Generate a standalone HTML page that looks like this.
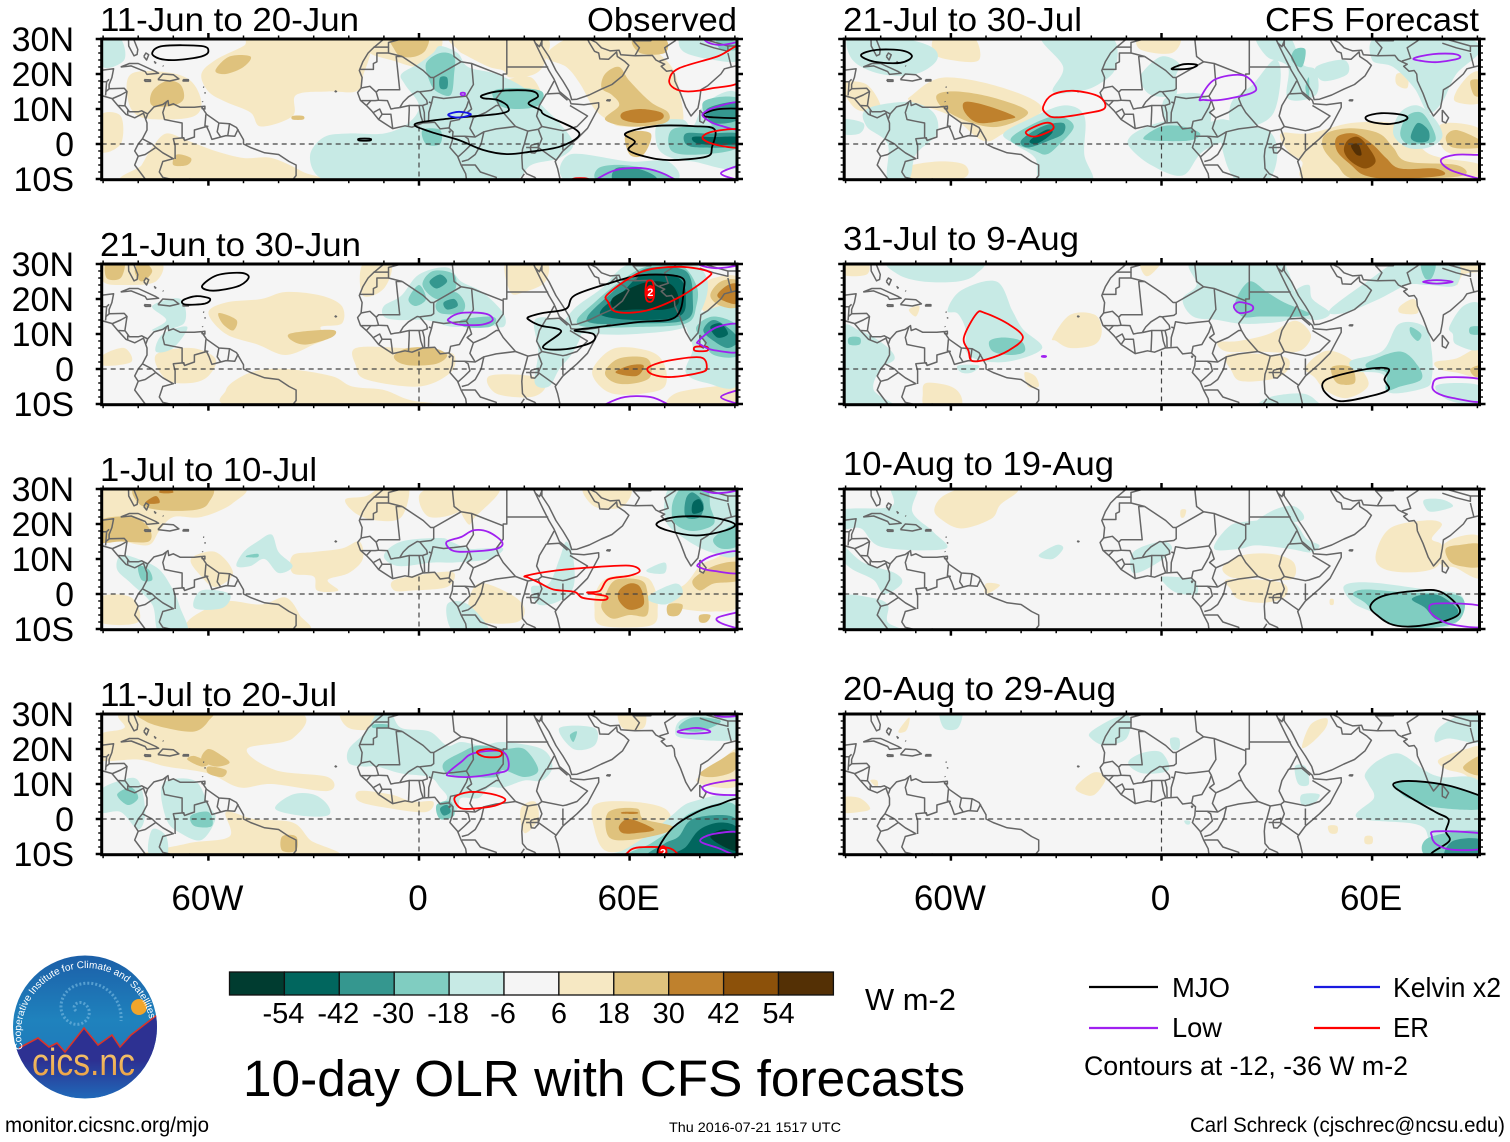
<!DOCTYPE html>
<html lang="en">
<head>
<meta charset="utf-8">
<title>10-day OLR with CFS forecasts</title>
<style>
html,body{margin:0;padding:0;background:#fff;}
svg{display:block;font-family:"Liberation Sans",sans-serif;}
text{fill:#000;}
</style>
</head>
<body>
<svg id="chart" width="1510" height="1142" viewBox="0 0 1510 1142" xmlns="http://www.w3.org/2000/svg">
<defs>
<linearGradient id="skyGrad" x1="0" y1="0" x2="0" y2="1"><stop offset="0" stop-color="#1c5fa8"/><stop offset="0.45" stop-color="#1f82bd"/><stop offset="1" stop-color="#1f72b8"/></linearGradient>
<linearGradient id="hillGrad" x1="0" y1="0" x2="0" y2="1"><stop offset="0" stop-color="#2d3192"/><stop offset="0.55" stop-color="#2d3192"/><stop offset="1" stop-color="#2068b8"/></linearGradient>
<linearGradient id="goldGrad" x1="0" y1="0" x2="0" y2="1"><stop offset="0" stop-color="#f7d07a"/><stop offset="1" stop-color="#e89a3c"/></linearGradient>
<clipPath id="logoClip"><ellipse cx="85" cy="1027" rx="72" ry="71.5"/></clipPath>
<path id="logoArc" d="M 23 1049 A 65 65 0 1 1 151 1032" fill="none"/>
</defs>
<g id="panels"></g>

<g>
<text x="100" y="31" font-size="33" textLength="259" lengthAdjust="spacingAndGlyphs">11-Jun to 20-Jun</text>
<text x="587" y="31" font-size="33" textLength="150" lengthAdjust="spacingAndGlyphs">Observed</text>
<text x="100" y="256" font-size="33" textLength="261" lengthAdjust="spacingAndGlyphs">21-Jun to 30-Jun</text>
<text x="100" y="481" font-size="33" textLength="217" lengthAdjust="spacingAndGlyphs">1-Jul to 10-Jul</text>
<text x="100" y="706" font-size="33" textLength="237" lengthAdjust="spacingAndGlyphs">11-Jul to 20-Jul</text>
<text x="843" y="31" font-size="33" textLength="239" lengthAdjust="spacingAndGlyphs">21-Jul to 30-Jul</text>
<text x="1265" y="31" font-size="33" textLength="214" lengthAdjust="spacingAndGlyphs">CFS Forecast</text>
<text x="843" y="250" font-size="33" textLength="236" lengthAdjust="spacingAndGlyphs">31-Jul to 9-Aug</text>
<text x="843" y="475" font-size="33" textLength="271" lengthAdjust="spacingAndGlyphs">10-Aug to 19-Aug</text>
<text x="843" y="700" font-size="33" textLength="273" lengthAdjust="spacingAndGlyphs">20-Aug to 29-Aug</text>
</g>

<g id="colorbar"></g>
<text x="865" y="1010" font-size="31" textLength="91" lengthAdjust="spacingAndGlyphs">W m-2</text>
<text x="243" y="1096" font-size="51" textLength="722" lengthAdjust="spacingAndGlyphs">10-day OLR with CFS forecasts</text>
<text x="5" y="1132" font-size="21" textLength="204" lengthAdjust="spacingAndGlyphs">monitor.cicsnc.org/mjo</text>
<text x="669" y="1132" font-size="14" textLength="172" lengthAdjust="spacingAndGlyphs">Thu 2016-07-21 1517 UTC</text>
<text x="1190" y="1132" font-size="21.5" textLength="315" lengthAdjust="spacingAndGlyphs">Carl Schreck (cjschrec@ncsu.edu)</text>

<g>
<line x1="1089" x2="1158" y1="987" y2="987" stroke="#000" stroke-width="2.2"/>
<text x="1172" y="997" font-size="28" textLength="58" lengthAdjust="spacingAndGlyphs">MJO</text>
<line x1="1314" x2="1380" y1="987" y2="987" stroke="#1a1ae0" stroke-width="2.2"/>
<text x="1393" y="997" font-size="28" textLength="108" lengthAdjust="spacingAndGlyphs">Kelvin x2</text>
<line x1="1089" x2="1158" y1="1028" y2="1028" stroke="#a020f0" stroke-width="2.2"/>
<text x="1172" y="1037" font-size="28" textLength="50" lengthAdjust="spacingAndGlyphs">Low</text>
<line x1="1314" x2="1380" y1="1028" y2="1028" stroke="#f00" stroke-width="2.2"/>
<text x="1393" y="1037" font-size="28" textLength="36" lengthAdjust="spacingAndGlyphs">ER</text>
<text x="1084" y="1075" font-size="27" textLength="324" lengthAdjust="spacingAndGlyphs">Contours at -12, -36 W m-2</text>
</g>

<g>
<ellipse cx="85" cy="1027" rx="72" ry="71.5" fill="url(#skyGrad)"/>
<g clip-path="url(#logoClip)">
<path d="M76 1011c-6-6 4-12 10-6 9 9-2 24-15 18-16-8-12-32 6-38 24-8 46 12 44 36" fill="none" stroke="#6fb3dd" stroke-width="3" stroke-dasharray="2 2" opacity=".7"/>
<circle cx="139" cy="1007" r="8" fill="#f0a52c"/>
<path d="M13 1052 19 1048 38 1038 49 1047 57 1043 65 1052 84 1028 98 1045 112 1035 120 1047 131 1035 157 1015 157 1098 13 1098Z" fill="url(#hillGrad)"/>
<path d="M19 1048 38 1038 49 1047 57 1043 65 1052 84 1028 98 1045 112 1035 120 1047 131 1035 157 1015" fill="none" stroke="#d8342a" stroke-width="1.6"/>
</g>
<text font-size="10" style="fill:#fff"><textPath href="#logoArc" startOffset="0">Cooperative Institute for Climate and Satellites</textPath></text>
<text x="32" y="1075" font-size="38" textLength="103" lengthAdjust="spacingAndGlyphs" style="fill:url(#goldGrad)">cics.nc</text>
</g>

<script>
// ---- axes -----------------------------------------------------------------
const rowTops = [39, 264, 489, 714];
const colZeros = [419, 1161.5];
const lonTicksMajor = [-60, 0, 60];
const lonTickLabels = ['60W', '0', '60E'];
const latTicksMajor = [30, 20, 10, 0, -10];
const latTickLabels = ['30N', '20N', '10N', '0', '10S'];

// ---- colour scale ---------------------------------------------------------
const colorbarTicks = [-54, -42, -30, -18, -6, 6, 18, 30, 42, 54];
const colorbarColors = ['#003c30', '#01665e', '#35978f', '#80cdc1', '#c7eae5', '#f5f5f5', '#f6e8c3', '#dfc27d', '#bf812d', '#8c510a', '#543005'];
const contourColors = {mjo: '#000000', low: '#a020f0', kelvin: '#1414e6', er: '#ff0000'};

// ---- geography (lon, lat pairs) -------------------------------------------
const coastlines = [
 [-82.8,31,-82.7,28,-81.2,25.2,-80.3,25.6,-80.1,27,-81.3,30,-81.4,31],
 [-91,21,-87,21.5,-87.5,19,-88.3,17,-88.3,15.8,-84,15.9,-83.2,15,-83.8,11,-82.5,9.2,-80,9.2,-79,9.5,-77.3,8.6,-75.5,10.6,-73,11.3,-71.5,12.4,-71.3,11,-70,11.5,-68,10.5,-64,10.5,-62,10.7,-60.5,8.5,-57,6,-54,5.8,-52,4.7,-50,1.2,-50,0,-48,-1,-44,-2.5,-40,-3,-37,-5,-35,-6,-35,-9,-37,-11.5],
 [-91,14,-87.5,13,-85.8,11,-83.5,8.5,-81,7.5,-80,8,-78.5,8.8,-77.5,6,-77.5,4,-78.8,1.5,-80,0,-81,-2,-80,-3.5,-81,-6,-78,-10,-77,-12],
 [-85,22,-82.5,23,-80,23,-75,20.7,-74.2,20.2,-77.5,19.9,-78,20.7,-82,22.3,-85,22],
 [-74.4,18.4,-73,20,-70,19.8,-68.4,18.6,-71,18,-74.4,18.4],
 [-78.3,18.4,-76.5,18.3,-76.5,17.9,-78,17.9,-78.3,18.4],
 [-67.2,18.4,-65.7,18.4,-65.7,18,-67.2,18,-67.2,18.4],
 [-78.4,25,-77.8,26,-77,25.5,-77.6,24,-78.4,25],
 [-75.5,23.6,-75,23.2,-75.3,23],
 [-73,22.4,-72.8,22.2],
 [-61.8,10.7,-61,10.8,-61,10,-61.8,10.1,-61.8,10.7],
 [-61.5,16.3,-61.2,16.2],[-61,14.8,-60.9,14.4],[-61.7,12.2,-61.6,12],
 [-10,30,-9.6,30.5,-9.8,31.5],
 [-10,30,-13,27.5,-14.5,26,-16,23.5,-17,21,-16.2,19,-16.5,16,-17.5,14.7,-16.7,12.5,-15,11,-13.5,9.5,-11.5,7,-7.5,4.4,-4,5.2,-2,4.8,1,6,4.5,6.2,6,4.3,8.5,4.6,9.7,3.5,9.5,1,8.8,-1,11,-3.5,12,-6,13.3,-8.5,13.7,-11.5],
 [40.5,-11.5,39.5,-7,38.8,-5,41,-2,45,1.5,48,4.5,51.2,10.5,51.2,11.8,47,11.2,43.3,11.5,43,12.5,40,15,38.5,18.5,37,21,35.5,24,33.8,27.5,32.6,30,32.4,31],
 [33,29,34.3,27.8,35,29.5,34.7,28],
 [35,29.5,35,28,37,25,39,21,41,18,42.8,15,43.5,12.7,45,12.8,48.5,14,52,15.7,55,17,58,19.5,59.8,22.5,58.5,23.7,56.5,25,56.3,26.3,54,24.2,51.5,24.3,51.2,26,50,26.5,48.5,29,48,30],
 [48.5,30,50.5,29,52,27.5,54.5,26.6,57,26.8,57.5,25.5,61.5,25.2,66.5,25.3,67.5,24,68.5,23.5,70,22.8,69,22.2,70.5,20.8,72,21,72.7,20,72.9,18,74.5,14.5,76,10.5,77.5,8,79.5,10.3,80,13,80.3,15.5,82.3,16.7,86,20,87,21.5,89,22,91,22.5],
 [80,9.7,81.8,7.5,81,6,80,6.5,80,9.7],
 [53.5,12.6,54.5,12.6,54.3,12.3,53.5,12.4,53.5,12.6],
 [32,-0.3,34,0.2,34,-1.5,33,-2.6,32,-2.5,31.7,-1,32,-0.3],
 [8.5,3.7,8.9,3.6,8.7,3.3,8.5,3.7],
 [-24,15.2,-23.5,15,-23.8,14.9,-24,15.2]
];
const borders = [
 [-72,12,-73,9,-72.5,7,-70,6.5,-67.5,6,-67.5,2,-66.8,1.2],
 [-60.7,8.5,-61,5.2,-60,5],
 [-69.5,-4.3,-69.5,-0.5,-70,1.5,-67,1.8,-66.8,1,-64,2,-64,4,-60.5,5,-59.8,3.5,-59,1.3,-56.5,2,-55,2.4,-52.5,2.2,-51.5,4.3],
 [-57,6,-57.5,3.5,-56.5,2],[-54,5.8,-54.3,3.5,-54.5,2.3],
 [-78.8,1.5,-76,0,-75,-1,-73,-2.5,-70,-4.2,-73,-5,-74,-8,-73,-9.5,-71,-10,-70.5,-11],
 [-80,-3.5,-78,-3,-75,-1],[-69,-11,-65.3,-10,-65.3,-11],[-77.3,8.6,-77.8,7.2],
 [-92,14.5,-91,16,-91,17.8,-89,17.8,-88.3,18.5],[-89,17.8,-89.2,15,-88.2,15.8],[-89.2,15,-89.3,13.9],
 [-87.3,13,-85,14,-83.2,15],[-85.7,11,-83.7,10.9],[-83,9.6,-83,8.2],
 [-13,27.7,-8.7,27.7,-8.7,29,-5,30,-3.5,31],[-8.7,27.7,-8.7,26,-4.8,25],
 [-8.7,26,-12,26,-12,23.5,-13,23,-13,21.3,-17,21.3],
 [-4.8,25,-6.5,25,-5.5,15.5,-11.5,15.5,-12.2,14.8],[-16.5,16,-14,16.5,-12.2,14.8],
 [-4.8,25,1.2,21,3.3,19,4.2,19,12,23.5,10,25,9.5,30,9.5,31],[12,23.5,15,23,24,19.5],
 [25,31,25,20,24,20,24,19.5],[25,22,36.8,22],
 [4.2,19,4.2,15.8,3.5,15.3,1,15,0.2,14.9],[-5.5,10.4,-4.5,12,-3,13.5,-0.5,15,0.2,14.9],
 [-12.2,14.8,-11.5,12.5,-9,12.4,-8,10,-7,10.2,-5.5,10.4],[-16.7,12.4,-12.5,12.4,-11.5,12.5],
 [-15,11,-13.7,12.4],[-13,9,-11.2,10,-10.5,8.5],[-11.5,7,-10.5,8.5,-8,8.5,-7.5,4.4],
 [-3,5,-2.8,9.5,-2.8,11,-5.5,10.4],[1.2,6,0.5,8,0,11],[1.6,6.2,1.5,9,1,11],
 [-2.8,11,1,11,2.4,11.5,2.2,12.5,0.2,14.9],[2.8,12,3.6,11.7,4,13.5,7,13,10,13.3,13.5,13.7],
 [2.7,6.3,2.8,9,3.6,11.7],[8.6,4.6,9,6.5,11.5,7,13.5,10.5,14.2,12.5,13.5,13.7,15.5,17,15,23],
 [14.2,12.5,15,10,13.7,9,15.5,7.5,19,9,22,11,22.8,11,22,13,24,15.7,24,19.5],
 [22.8,11,24,9,27.5,5,31,3.7,34,4.2,35,5],[18.5,3.5,22,4.3,27.5,5],[15.5,7.5,14.5,4.5,16,2],
 [9.8,2.2,13,2.2,16,2,18.5,3.5,17.7,0,16,-3,14,-4.5,12.2,-5],[11,-3.8,13,-2,14.5,-0.5,14,1.5,13,2.2],
 [38.5,18,36.5,14.3,36.2,14.2,34.3,11,33.5,8,35,5,41,3.8,42,4,45,5,48,8,43,11],
 [36.5,14.3,40,14.5,42.3,12.5],[41,-1.7,41,3],[34,4.2,35,1.5,34,-1],[31,3.7,30,0,29.5,-1.5,29.3,-3.5,29.5,-7,30.7,-8.5,33,-9.5,34.5,-11.5],
 [30.5,-1,34,-1,37.5,-3.5,39.2,-4.7],[12.2,-6,16,-6,17.5,-8,22,-9.5,22,-11.5],[28,-11.5,30,-8.5],[40.4,-10.7,35,-11.5],
 [61.5,25.2,62.8,27.5,61,29.5,61,31],[68.5,23.7,71,24.5,70,27.5,73,29.5,75,32],[61,29.5,66,29.5,67,31],
 [48.5,30,47,31],[80,28.8,84,27.5,88,26.5,88,28],[88,26,88.5,24,89,22],[79,31,80,30.4,81,30,88,28,91,28]
];

// ---- panel 1: 11-Jun to 20-Jun (observed) ---------------------------------
const panel1Shades = [
 [12,[-62,20,-58,24,-50,28,-46,31,-16,31,-16,19,-18,15,-26,15,-35,14,-36,8,-45,5,-48,9,-55,12,-60,15]],
 [12,[-82,20,-72,20.5,-65,18,-62,12,-64,8,-72,7,-80,8,-83,13]],
 [12,[-72,3,-66,1,-58,-2,-50,-4,-42,-4,-33,-8,-29,-11,-82,-11,-79,-6,-76,-1]],
 [12,[-91,8,-85,8,-85,0,-91,-2]],
 [12,[-15,30,5,31,5,25,0,22,-8,24,-14,26]],
 [12,[10,31,35,31,36,24,33,20,26,19,24,21,20,22,14,25,11,27]],
 [12,[36,25,42,30,50,31,62,31,67,27,72,22,74,16,75,6,68,5,58,5,55,6,50,10,46,17,42,22]],
 [12,[25,18,32,19,35,13,30,14]],
 [-12,[6,28,11,26,14,22,22,20,30,16,36,10,40,6,44,0,40,-4,32,-6,26,-11,8,-11,-2,-11,-22,-11,-29,-9,-31,-3,-27,2,-20,3,-10,3,-3,6,0,11,-4,17,-5,20,0,23,4,26]],
 [-12,[68,6,75,7,78,5,82,12,91,14,92,-6,78,-5,72,-4,68,-1]],
 [-12,[43,-3,60,-5,71,-5,72,-11,43,-11]],
 [-12,[74,29,76,26,84,24,91,24,91,31,76,31]],
 [-12,[-90,30,-85,30,-84,24,-90,22]],
 [24,[-8,31,2,31,2,27,-1,25,-5,25,-7,27]],
 [24,[53,20,57,22,60,18,66,12,71,9,70,6,60,5,53,7,57,11,55,14,52,16]],
 [24,[61,30,70,30,70,26,63,26]],
 [24,[59,3,66,3,64,-3,60,-3]],
 [24,[-58,21,-54,25,-48,25,-50,22,-55,20]],
 [24,[-76,15,-72,18,-68,17,-67,13,-70,11,-76,11]],
 [24,[-36,8,-33,8,-33,7,-36,7]],
 [24,[-69,-3,-65,-4,-66,-6,-70,-6]],
 [-24,[2,23,6,26,10,25,10,20,9,14,5,15,3,18]],
 [-24,[21,15,27,16,35,15,34,11,28,10,23,11]],
 [-24,[1,4,6,4,6,0,2,0]],
 [-24,[72,4,80,5,91,5,91,-1,80,-3,72,-2]],
 [-24,[51,-7,58,-6,69,-8,70,-11,52,-11]],
 [-24,[85,30,91,29,91,27,86,27]],
 [-24,[81,12,91,13,91,5,84,5]],
 [36,[58,9,63,10,69,9,69,7,63,6,58,7]],
 [-36,[6,19,8,19,8,16,6,16]],
 [-36,[76,3,82,3,91,3,91,-0.5,80,-1,76,0]],
 [-36,[56,-7,62,-7,67,-9,67,-11,56,-11]],
 [-36,[82,10,91,12,91,7,84,6]],
 [-48,[78,2,84,2,91,2,91,0,80,0]]
];
const panel1Contours = [
 ['mjo',[-76,26,-73,28,-62,28,-60,26.5,-62,25,-69,24,-74,24.4]],
 ['mjo',[-17,1.5,-14,1.5,-14,1,-17,1]],
 ['mjo',[18.2,14,23.7,15.2,31.8,15.2,33.9,13.6,31.2,11.6,34.6,9.7,35.9,8.3,44.1,4.5,45.4,2.1,40,-0.8,31.8,-2.2,25,-2.9,18.2,-1.7,11.4,1.1,3.3,3.5,-1.1,5.7,8.7,7.3,23.7,8.8,25.3,10.7,22.3,12.6,18.2,13.1]],
 ['mjo',[58.8,3,67.2,5.1,78.1,5.1,84.2,4.2,83.5,-0.8,81.9,-3.6,71.3,-4.6,64.5,-3.6,59.7,-1.7,61.5,0.7]],
 ['mjo',[80.8,8.3,84.9,9.9,92,9.9,92,7.6,84,7.6]],
 ['kelvin',[8.4,8.5,11.4,9.2,14.8,8.5,12,7.6,9.3,7.8]],
 ['low',[12,14.6,13,14.6,13,14,12,14]],
 ['low',[48,-12,50.2,-10.3,56.3,-7.4,64.5,-7,71.3,-9.3,73,-12]],
 ['low',[82,31,82,29.2,86,28.3,92,29.7,92,32]],
 ['low',[81,8.8,86,11,92,11.5,92,4.5,86,5.2,82,7]],
 ['low',[86,-8.4,90,-6.5,93,-6,93,-10,90,-10]],
 ['er',[71.3,18.3,74,21.6,85,25,92,28,92,18.3,83.5,15.9,76.7,15,72.7,15.9]],
 ['er',[80.8,1.6,83.5,3.5,92,4,92,-0.8,85,-0.3]],
 ['er',[44,-9.9,48,-9.9,48,-11,44,-11]]
];
const panel1Labels = [];

// ---- panel 2: 21-Jun to 30-Jun --------------------------------------------
const panel2Shades = [
 [12,[-90,31,-74,31,-75,25,-84,24,-90,25]],
 [12,[-60,16,-55,19,-45,20,-38,22,-28,21,-22,18,-22,13,-28,12,-26,9,-30,7,-38,4,-46,7,-55,10]],
 [12,[-48,-1,-38,0,-25,-2,-19,-5,-10,-6,-2,-9,12,-11,-50,-11,-55,-6]],
 [12,[-18,6,-5,6,5,5,10,4,9,-1,0,-5,-15,-3,-18,1]],
 [12,[-16,30,-8,30,-10,23,-16,21]],
 [12,[25,31,36,31,36,25,30,22,26,22]],
 [12,[20,-2,32,-2,36,-5,32,-8,22,-7]],
 [12,[50,1,56,6,66,5,70,1,70,-5,64,-7,55,-7,50,-3]],
 [12,[80,23,84,26,91,26,91,16,84,15,80,18]],
 [12,[-90,4,-84,6,-82,2,-90,1]],
 [12,[73,-7,84,-5,91,-5,91,-11,72,-11]],
 [12,[-75,4,-65,6,-58,3,-60,-2,-65,-4,-72,-3]],
 [-12,[41,11,44,17,52,23,60,30,76,31,82,26,81,18,76,12,62,10,50,10]],
 [-12,[76,13,80,16,91,17,91,-4,82,-4,76,-1,78,6]],
 [-12,[33,14,40,14,46,11,44,5,40,0,37,-5,33,-4,34,5]],
 [-12,[-10,18,-5,21,0,27,8,29,12,25,18,22,24,16,24,12,18,13,10,12,2,14,-6,14,-10,15]],
 [-12,[-76,18,-68,20,-67,13,-76,11,-72,14]],
 [-12,[-73,10,-66,12,-70,6,-75,5]],
 [24,[-89,31,-84,31,-85,26,-89,26]],
 [24,[-79,31,-76,28,-79,25,-81,28]],
 [24,[-57,16,-52,14,-53,11,-56,13]],
 [24,[-37,10,-30,11,-24,11,-25,9,-32,7,-36,8]],
 [24,[-7,4,-3,6,4,6,8,4,5,1.5,-2,1,-6,2]],
 [24,[53,-1,57,3,65,3,66,-2,62,-4,56,-4]],
 [24,[83,21,86,25,91,25,91,18,86,18]],
 [-24,[45,14,50,19,56,24,64,29,74,30,79,24,79,18,76,13,62,12,48,12]],
 [-24,[79,12,84,15,91,12,91,4,84,4,81,8]],
 [-24,[1,24,4,28,10,27,10,22,5,20]],
 [-24,[5,19,10,22,13,19,12,16,6,16]],
 [-24,[12,14,20,15,22,14,20,12,13,12]],
 [-24,[-3,20,0,24,2,20,-1,18]],
 [36,[56,-1,60,1,64,1,62,-2]],
 [36,[85,21,88,24,91,24,91,19,88,19]],
 [-36,[48,15,54,21,60,26,66,29,76,28,78,20,76,14,62,13,50,13]],
 [-36,[3,25,6,27,8,25,5,23]],
 [-36,[7,19,10,20,11,18,8,17]],
 [-36,[81,11,84,14,89,11,91,8,88,6,84,8]],
 [-48,[52,17,58,22,64,27,74,26,76,20,74,15,62,14,53,15]],
 [-48,[83,12,86,13,88,10,85,9]],
 [-60,[55,20,60,23,66,25,72,24,74,19,70,17,62,17,56,17]]
];
const panel2Contours = [
 ['mjo',[-61.7,23.9,-57.5,26.8,-51,27.5,-48.5,26.3,-51,23.9,-57,22.5,-60.5,22.6]],
 ['mjo',[-67.3,19.6,-63.5,20.8,-59.6,20.1,-61,18.7,-66.5,18.4]],
 ['mjo',[31.1,14.8,35.3,16,41.9,17.2,44.3,21,53.9,24.4,63.5,26.8,74.3,26.3,75.4,22.5,73,14.8,62.3,13.4,50.3,11.9,44.3,11,49.7,10,49.1,7.6,41.9,5.7,35.3,6.2,40.5,10.8,34.7,12.4,31.7,13.8]],
 ['er',[53.9,21.5,63.5,27.8,74.3,29.2,82.6,27.8,82,25.9,74.3,20.6,64.7,16.7,56.3,16.3,53.9,19.1]],
 ['er',[65.3,0.4,70.7,2.3,80.2,3.3,82,0.4,80.2,-1,71.9,-2.3,66.5,-1.5]],
 ['er',[78.7,6.3,82,6.3,82,5.2,78.7,5.2]],
 ['er',[65,25,66.5,25,67,22,66.5,19.5,65,19.5,64.5,22]],
 ['low',[8.4,14.3,12,16,19,15.8,21,14,18,12.7,12,12.6,9,13.4]],
 ['low',[79.6,8,85,12,92,12.4,92,5.2,83.9,5.4,80,7.1]],
 ['low',[51,-12,53.3,-10,58.7,-8,65.9,-8,70.7,-10,73,-12]],
 ['low',[80,31,80,29.7,85,28.8,92,30,92,32]],
 ['low',[86,-8,91,-6,93,-6,93,-10,91,-10]]
];
const panel2Labels = [[65.9,22,'2']];

// ---- panel 3: 1-Jul to 10-Jul ---------------------------------------------
const panel3Shades = [
 [12,[-91,31,-52,31,-53,26,-62,22,-70,22,-74,18,-77,14,-84,15,-91,17]],
 [12,[-36,11,-30,12,-22,13,-17,15,-16,10,-20,6,-26,4,-23,1,-29,1,-30,5,-36,6]],
 [12,[-21,27,-15,28,-10,31,-3,31,-5,22,-12,21,-18,23]],
 [12,[0,28,5,31,12,31,12,24,3,22]],
 [12,[11,26,14,20,16,22,23,30,12,31]],
 [12,[-62,-5,-55,-2,-45,-3,-38,-1,-34,-6,-33,-11,-66,-11,-66,-8]],
 [12,[-91,-1,-82,-1,-80,-8,-91,-8]],
 [12,[-65,10,-58,12,-53,6,-58,2,-62,5]],
 [12,[-7,4,4,6,10,6,8,2,-2,1,-7,1]],
 [12,[17,3,26,0,30,-4,28,-8,18,-8,14,-4]],
 [12,[47,31,60,31,58,25,50,25]],
 [12,[51,2,55,5,64,5,67,2,68,-4,66,-9,52,-9,50,-4]],
 [12,[70,-1,76,3,80,8,84,10,91,12,91,-3,84,-5,74,-4]],
 [-12,[72,31,84,31,91,31,91,12,83,12,74,17,70,22]],
 [-12,[-10,11,-5,15,6,16,9,15,14,13,18,13,24,13,20,10,10,9,4,9,-6,8]],
 [-12,[-52,8,-50,12,-46,15,-42,17,-40,12,-36,8,-40,6,-44,10,-48,8]],
 [-12,[-85,11,-80,10,-74,7,-70,1,-68,-4,-66,-11,-74,-11,-76,-3,-82,3,-86,7]],
 [-12,[-62,1,-54,0,-56,-4,-64,-4]],
 [-12,[32,2,37,3,40,10,42,15,44,10,44,2,40,-2,34,-3]],
 [-12,[8,-3,14,-3,20,-11,10,-11]],
 [-12,[65,-1,73,3,75,0,70,-3]],
 [-12,[65,7,70,9,70,6,66,6]],
 [24,[-80,31,-60,31,-60,26,-64,24,-74,24,-80,26]],
 [24,[-91,21,-82,22,-77,19,-77,15,-85,15,-91,15]],
 [24,[53,-0.5,56,4,63,4,65,1,65,-6,60,-6,55,-7,52,-4]],
 [24,[78,4,84,8,91,9,91,4,84,3,80,1]],
 [24,[71,-3,75,-3,74,-6,71,-6]],
 [24,[80,-6,83,-6,82,-8,80,-8]],
 [-24,[73,28,76,31,82,30,83,25,84,20,78,18,73,20,72,24]],
 [-24,[84,16,91,20,91,14,86,13]],
 [-24,[-49,11,-46,11.5,-46,10.5,-49,10.5]],
 [-24,[-80,8,-77,7,-76,4,-79,4]],
 [36,[-74,29,-72,31,-70,29]],
 [36,[-78,26,-75,28,-74,26]],
 [36,[57,1,60,3,63,2,64,-3,60,-4.5,57,-2]],
 [-36,[76,27,78,29,81,26,80,22,76,22]],
 [-48,[78,26,80,27,81,24,78,23]]
];
const panel3Contours = [
 ['mjo',[67.7,20.1,73,22,82.6,22,89.8,20.1,87.4,18.2,79,16.7,70.7,18.2]],
 ['low',[7.8,14.8,12,16.3,15.6,18.2,19.8,17.7,23.7,14.8,22,12.9,14.4,12.1,9.6,12.4]],
 ['low',[79.6,8.6,83.9,11,92,12,92,6.2,83.9,6.6,80,7.6]],
 ['low',[85,-6.8,90,-5.4,93,-5,93,-11,91,-10,86,-8.3]],
 ['low',[80,31,80,30,85,28.8,92,30,92,32]],
 ['er',[30.5,5.2,38.3,6.6,49.1,7.6,59.9,8.1,62.9,6.6,59.9,5.2,53.9,4.2,51.5,0.9,47.9,0.4,53.3,-0.6,52.7,-1.7,46.7,-1.1,44.3,0.6,38.3,1.3,34.1,3.3,31.1,4.7]]
];
const panel3Labels = [];

// ---- panel 4: 11-Jul to 20-Jul --------------------------------------------
const panel4Shades = [
 [12,[-82,31,-36,31,-36,23,-49,20,-41,14,-26,12,-26,8,-42,10,-51,9,-60,13,-72,15,-80,17,-91,17,-91,24,-84,26]],
 [12,[-22,31,-10,31,-12,26,-20,26]],
 [12,[-55,2,-47,0,-36,-1,-31,-6,-25,-11,-78,-11,-66,-7,-54,-5]],
 [12,[-17,8,-8,7,-2,5,4,5,2,2,-8,3,-17,5]],
 [12,[29,3,33,5,34,0,30,-4]],
 [12,[50,4,60,5,70,3,72,-2,70,-8,60,-9,53,-9,50,-3]],
 [12,[79,11,84,15,90,20,91,19,91,10,85,9]],
 [12,[57,31,64,31,64,26,58,26]],
 [-12,[-20,16,-20,20,-15,25,-12,30,-8,30,-5,26,3,25,8,21,12,22,18,21,24,22,35,20,38,15,35,11,30,11,24,9,20,9,17,6,12,6,11,3,8,0,5,3,8,6,6,9,3,12,-5,13,-12,15,-16,15]],
 [-12,[-91,8,-85,11,-80,11,-78,2,-80,-3,-85,2,-91,2]],
 [-12,[-73,10,-64,11,-60,4,-58,0,-62,-6,-68,-4,-72,0]],
 [-12,[-76,-3,-72,-5,-72,-11,-77,-10]],
 [-12,[-41,3,-36,7,-30,7,-26,4,-26,1,-34,1]],
 [-12,[40,26,50,26,50,21,44,20]],
 [-12,[73,25,76,29,90,31,91,23,76,23]],
 [-12,[52,-11,58,-9,66,-4,72,1,78,5,91,6,91,-11]],
 [24,[-78,28,-72,26,-64,25,-60,28,-60,31,-80,31]],
 [24,[-60,20,-56,18,-54,16,-58,15,-62,17]],
 [24,[-66,17,-62,15,-60,16,-64,18]],
 [24,[-60,13,-56,12,-55,14,-60,15]],
 [24,[-39,-5,-35,-5,-35,-9,-39,-9]],
 [24,[54,2,62,3,64,0,72,-2,70,-4,60,-6,54,-5]],
 [24,[80,13,86,17,90,19,90,14,84,12]],
 [-24,[7,16,12,19,17,21,24,20,30,20,34,14,30,12,24,14,22,12,14,12,8,13]],
 [-24,[-13,27,-9,27,-9,26,-13,26]],
 [-24,[-86,7,-82,9,-80,6,-83,4]],
 [-24,[-65,1,-60,2,-59,-2,-64,-2]],
 [-24,[43,24,45,25,44,22]],
 [-24,[74,26,78,29,86,28,80,25]],
 [-24,[60,-11,66,-7,72,-3,78,2,90,4,91,-11]],
 [-24,[5,4,9,5,10,1,6,0]],
 [36,[57,-2,60,0,67,-3,62,-4,58,-4]],
 [36,[58,2,62,2,62,1.5,58,1.5]],
 [-36,[6,3,8,4,9,2,7,1]],
 [-36,[66,-11,70,-7,74,-5,78,0,88,1,91,-2,91,-11]],
 [-48,[72,-11,76,-8,80,-3,86,-1,91,-3,91,-11]],
 [-60,[83,-5,87,-3,91,-5,91,-9,87,-8]]
];
const panel4Contours = [
 ['low',[8.1,13,12,16.3,15.6,18.8,23.9,19.2,25.4,14.4,21.6,13,14.4,12,9,12.3]],
 ['low',[73.7,25,78.4,26,82,25.5,82.6,24.7,76.6,24.4]],
 ['low',[80.8,9.1,86.2,10.6,92,10.9,92,7.2,83.8,7.2]],
 ['low',[80.1,-6.3,83.8,-4.3,92,-4.1,92,-10.5,85,-8.2]],
 ['low',[84,31,84,29.8,87,29.2,92,29.8,92,32]],
 ['er',[16.5,19.2,19.8,20,23.4,19.2,22.8,17.8,18.6,17.8]],
 ['er',[10.2,6.2,14.4,7.7,20.4,7.2,24.6,5.6,21.6,3.8,14.4,2.9,11.4,3.4]],
 ['er',[57,-12,59,-10,62,-8.2,70.7,-8.2,73.7,-10,75,-12]],
 ['mjo',[68,-12,68.3,-8.2,72.4,-2.4,79,1.9,85,4,92,4.6,92,-12],'open']
];
const panel4Labels = [[69.5,-9.5,'2']];

// ---- panel 5: 21-Jul to 30-Jul (CFS) --------------------------------------
const panel5Shades = [
 [12,[-71,14,-62,19,-45,16,-34,10,-45,3,-51,1,-60,8,-71,12]],
 [12,[-64,31,-54,31,-52,24,-60,24,-65,26]],
 [12,[-6,31,5,31,3,26,-6,27]],
 [12,[-91,17,-84,17,-80,10,-87,10]],
 [12,[-74,-7,-64,-5,-56,-6,-57,-10,-74,-11]],
 [12,[34,3,42,3,54,6,66,6,71,3,75,-2,80,-4,91,-6,91,-11,44,-11,40,-5,36,-2]],
 [12,[79,5,84,6,91,4,91,-2,84,-3,80,-1]],
 [12,[84,15,88,20,91,20,91,12,84,12]],
 [12,[67,20,70,20,70,16,67,17]],
 [-12,[-89,31,-78,31,-66,28,-64,24,-70,20,-80,20,-88,24]],
 [-12,[-84,10,-72,12,-65,9,-64,3,-70,-3,-72,-10,-78,-10,-78,0,-84,5]],
 [-12,[-91,7,-85,6,-86,3,-91,3]],
 [-12,[-34,31,-15,31,-13,22,-18,17,-24,15,-31,15,-28,22]],
 [-12,[-45,3,-38,7,-28,11,-22,8,-22,-3,-20,-11,-34,-11,-36,-4,-42,0]],
 [-12,[-9,2,-4,5,4,7,12,6,18,7,24,4,12,-2,6,-9,-3,-6,-9,-1]],
 [-12,[-5,21,0,25,5,23,4,19,4,14,-3,14,-6,18]],
 [-12,[1,13,12,14,14,6,10,3,2,5]],
 [-12,[20,12,26,17,32,24,34,20,32,9,26,5,20,5]],
 [-12,[27,31,36,31,40,23,44,21,44,14,36,13,36,22,30,25]],
 [-12,[18,4,30,4,33,-3,30,-11,22,-11,18,-4]],
 [-12,[44,22,52,24,53,20,46,18]],
 [-12,[62,31,84,31,91,27,84,20,80,12,76,9,72,16,66,22,60,24]],
 [-12,[66,3,68,9,73,11,78,7,80,2,76,-1,70,-1]],
 [24,[-64,14,-58,15,-47,13,-38,9,-46,5,-54,6,-62,10]],
 [24,[47,3,54,4.5,62,3,66,-1,70,-5,84,-6,86,-9,72,-10,55,-10,50,-6,46,-1]],
 [24,[81,2,84,4,91,1,91,-1,83,-1]],
 [24,[88,18,91,18,91,14,89,14]],
 [-24,[-43,1,-38,5,-30,8,-25,5,-30,-1,-33,-3,-36,-2]],
 [-24,[-5,2,0,5,6,5,11,3,8,1,-3,1]],
 [-24,[38,27,41,27,40,22,37,24]],
 [-24,[41,16,42,19,42,13]],
 [-24,[68,3,70,8,74,9,77,5,78,1,74,0,70,0]],
 [36,[-56,12,-50,11,-42,8,-44,7,-52,6,-56,9]],
 [36,[50,2,55,3,60,0,64,-4,68,-7,78,-7,80,-9,66,-10,58,-9,54,-6,50,-2]],
 [-36,[-40,1,-34,5,-28,6,-28,3,-32,1,-38,-1]],
 [-36,[71,2,73,6,76,4,76,1,73,0.5]],
 [48,[53,1,56,2,59,-1,61,-5,58,-7,54,-5,52,-2]],
 [-48,[-37.5,1,-33,4,-31,3.5,-33,1.5,-36,0]],
 [60,[54,-0.5,56,0,57,-3,55.5,-3]]
];
const panel5Contours = [
 ['mjo',[-85.6,25.4,-81.2,26.9,-73.8,26.7,-71.1,25,-74.4,23.2,-81.8,23.5]],
 ['mjo',[3,21.6,6.4,22.8,10.1,22.6,8.3,21.6,4,21.3]],
 ['mjo',[58.3,7.8,62.6,8.8,68.8,8.3,69.8,7,65,5.7,59.5,6.4]],
 ['er',[-33.7,10.7,-31.2,14,-25.1,15.2,-17.7,13.5,-16.2,10.2,-21.4,8.8,-30,7.6,-33,8.8]],
 ['er',[-38.6,3.5,-33.7,5.9,-31.2,5.7,-31.2,4,-36.2,2.1]],
 ['low',[11,13,15,18.3,23,19.7,26.8,16.4,25.5,14.5,16.9,12.6,12,12.6]],
 ['low',[71.9,24.5,77.4,25.7,83.6,25.7,84.8,24.5,78.6,23.4,73.7,23.8]],
 ['low',[93,-3,90,-3.1,83.6,-3.1,79.6,-4.6,82.3,-7.4,90,-9.8,93,-10.5],'open']
];
const panel5Labels = [];

// ---- panel 6: 31-Jul to 9-Aug ---------------------------------------------
const panel6Shades = [
 [12,[-91,31,-84,31,-84,27,-91,27]],
 [12,[-31,9,-26,15.5,-19,15.5,-17,11,-19,7,-26,6,-30,8]],
 [12,[16,7.6,22,8,30.5,10,38,13.8,42.5,10,40.7,6,36.5,4.7,27,5,18.5,5]],
 [12,[19,4.2,34,3.7,36.5,1,33,-2.5,23,-3.5,20,-0.6]],
 [12,[41,0.4,47,5.2,54.5,2.3,59,-4.4,53,-8.3,47,-6.3,43.7,-2.5]],
 [12,[-67,-4,-60,-5,-57,-8,-58,-11,-67,-11,-68,-7]],
 [12,[-39,-1,-36,-2,-35,-5,-38,-5]],
 [12,[-6,31,0,31,-3,27,-5,27]],
 [12,[68,18,72,20,73,16,68,16]],
 [12,[78,2,84,3,91,6,91,-2,84,-1,79,0]],
 [12,[83,31,91,31,91,28,86,27,84,24]],
 [12,[-72,17,-69,18,-70,15]],
 [-12,[-77,31,-52,31,-53,27,-58,25,-68,25,-75,27]],
 [-12,[-61,16.7,-57,22.5,-47,25,-42.5,16.7,-39.5,11.4,-34,6,-42.5,2.3,-51,2.3,-55.7,5,-55.7,11,-58,15.8]],
 [-12,[-91,11,-86,11,-79,7,-76,3,-80,0,-82,-6,-76,-11,-91,-11]],
 [-12,[-58,1,-52,1,-54,-1,-57,-1]],
 [-12,[9,31,32,31,36,28,38,22,42,18,36,14,28,13,22,13,16,14,9,15,6,20,10,24]],
 [-12,[38,22,42,24,43,20,48,16,44,14,38,16]],
 [-12,[48,17,60,26,66,30,72,31,84,31,84,24,76,24,70,24,62,20,52,16]],
 [-12,[53.9,2.3,63,5.2,67.7,12.9,75,12,77,5,77,-2.5,75,-5.4,65,-6.8,63,-1.5,55.7,-0.6]],
 [-12,[82,12,86,18,91,18,91,6,84,7,83,10]],
 [-12,[31,-8,40,-7,44,-9,44,-11,28,-11]],
 [-12,[78,-5,84,-4,91,-5,91,-10,82,-9]],
 [24,[48.5,0.5,54,0.5,55,-4,50,-4]],
 [24,[88,0,91,1,91,-2,89,-2]],
 [-24,[21,19,25,25,30,22,35,19,42,16,40,15,34,15,28,15,23,15]],
 [-24,[74,30,78,30,77,26,75,26]],
 [-24,[59,2,68,5,73,1,74,-3,68,-5,64,-6,64,-1,59,0]],
 [-24,[71,12,74,10,73,8,71,10]],
 [-24,[88,12,91,12,91,10,88,10]],
 [-24,[-49,8,-45,9,-40,8,-39,5,-43,4,-48,5]],
 [-24,[-89,9,-86,9,-86,7,-89,7]]
];
const panel6Contours = [
 ['er',[-56.3,9,-52.7,15.8,-50.3,16,-43.7,12.9,-39.5,9,-43.7,5.2,-49.7,2.8,-54,2.3,-55,5.2]],
 ['mjo',[46,-3.9,49.7,-2,59.3,0.1,64.7,0,63.5,-3,64.7,-5.9,59.3,-7.8,50.9,-9.2,46.7,-6.8]],
 ['low',[20.6,17.9,22.2,19.1,25.7,18.2,25.7,16.7,22.2,16]],
 ['low',[74.5,24.9,78.4,25.4,83,24.9,78.4,24.4]],
 ['low',[77.2,-4.9,79.6,-2.5,92,-3.3,92,-9.2,83,-8.3,78.4,-6.8]],
 ['low',[-34,3.7,-33,3.7,-33,3.5,-34,3.5]]
];
const panel6Labels = [];

// ---- panel 7: 10-Aug to 19-Aug --------------------------------------------
const panel7Shades = [
 [12,[-64.7,24.4,-61.7,28.3,-53,31,-41,30,-46,25.4,-48.5,21.5,-57,18.7,-63,21.5]],
 [12,[61,11,65,18.7,75,21,79.9,20,77,15.8,79.9,13.9,78.7,8,71.8,6.2,63.5,7.1]],
 [12,[78.5,12,83.5,16,91,16,91,4.7,83.5,7.6,80,8]],
 [12,[17.4,7.6,22.8,11,31.7,11.4,37.7,9,37,4.2,27,4.7,20,4.7]],
 [12,[19,4.2,34,3.3,35.3,-0.6,29.3,-2.5,22,-1.5,19.8,1.3]],
 [12,[-50,3,-46,2.5,-50,0]],
 [12,[48,-1.5,49,-1.5,49,-3,48,-3]],
 [12,[5.5,24,7,24,6.5,22,5.5,22]],
 [-12,[-91,24,-77,25,-77,31,-69.5,31,-71,23.5,-65,17.7,-61.7,12.9,-79.6,13.4,-85.6,18.7,-91,18.7]],
 [-12,[-91,14,-85,9,-76,6,-74,3,-79,0,-82,4,-88,7,-91,10]],
 [-12,[-91,-1,-83,-1,-78,-3,-78,-8,-73,-11,-91,-11]],
 [-12,[-8,12,0,15,3,13,-1,9,-8,6]],
 [-12,[1,5,9,4,10,0,4,0.5,0,4]],
 [-12,[15,12.9,18.6,18.7,23.4,20.6,36.5,21,41.3,15.8,45,13.9,42.5,11.9,36.5,12.9,27,13.9,22.2,12.9]],
 [-12,[27,20,32,24,38,25,40,21]],
 [-12,[-35,11,-30,14,-28,13,-31,10]],
 [-12,[75,27,80,27,83,25,77,23.5,75,25]],
 [-12,[52,2.3,59.3,3.3,75,1.3,85.6,-0.6,84,-8.3,77,-9.7,67.7,-9.2,60.5,-5.4,54.5,-2.5]],
 [24,[81,13,85,14,91,14,91,8,85,8,82,9.5]],
 [-24,[54.5,-0.1,58,1.3,70,0.4,85,-0.6,85,-7.3,77,-9.7,67.7,-9.2,61.7,-6.3,58,-2.5]],
 [-36,[71.3,-1.5,75,-0.1,79.6,-0.6,84.4,-4.4,83,-6.8,78.4,-7.3,75,-3.9]]
];
const panel7Contours = [
 ['mjo',[59.5,-3.5,63,-0.6,72.5,0.9,79.6,0.6,85,-4.4,82,-7.3,72.5,-9.2,65.9,-8.8,61.7,-6.3]],
 ['low',[76.3,-4.4,78.4,-2.7,92,-3.7,92,-9.2,83,-8.8,78.4,-6.8]]
];
const panel7Labels = [];

// ---- panel 8: 20-Aug to 29-Aug --------------------------------------------
const panel8Shades = [
 [12,[79,17,86.8,20,91,20,91,10,86,12.9,81,14.3]],
 [12,[-24.5,9,-20,13,-17,13,-16,11,-19,7,-22,7]],
 [12,[-91,6,-86,6,-83,3,-86,2,-91,2]],
 [12,[-75,25,-72,29,-72,27,-73,25]],
 [12,[40,20.6,42.5,27,47,28.8,46.7,25.9,42.5,21.5]],
 [12,[47.5,-2,50,-2,50,-4,48,-4]],
 [12,[58,-5,60,-5,60,-7,58,-7]],
 [12,[-83,11,-81,11,-81,9]],
 [-12,[-63,31,-57,31,-58,26,-62,26]],
 [-12,[-20,25,-13,29,-9,29,-10,23,-16,21,-20,23]],
 [-12,[-9,17,-5,19,0,19,2,14,-5,13,-9,15]],
 [-12,[2.5,23,5,23,5,20,3,20]],
 [-12,[38,15,41,15,42,10,39,10]],
 [-12,[40,7,45,7,43,4,40,4]],
 [-12,[79,26,86,30,91,29,91,22,82,23,78,22]],
 [-12,[58,12.9,61.7,16.7,67.7,18.7,75,13.9,79.6,12,91,10,91,-11,76,-11,76,-5.4,72.5,-1.5,55.7,0.4,60.5,6,59,10]],
 [-12,[6.5,-0.5,8,-0.5,8,-1.5,7,-1.5]],
 [24,[86,15,91,18,91,12.9,88,13]],
 [-24,[66.5,10,72.5,10.8,79.6,10,91,6.6,91,2.8,78.4,3.3,72.5,5.2,69,6.6]],
 [-24,[76,-5.4,91,-3.5,91,-11,76,-11]],
 [-36,[83,-6.3,91,-5.9,91,-11,81,-11]]
];
const panel8Contours = [
 ['mjo',[93,6,91,6.6,82,9.5,72.5,10.8,67,10.5,66.5,9,72.5,5.2,78.4,1.8,81.8,-0.1,81,-3.5,82,-6.3,77,-9.7,76,-12],'open'],
 ['low',[77,-4.9,78.4,-3.5,92,-4.4,92,-8.3,83,-8.8,78.4,-7.3]]
];
const panel8Labels = [];

const panels = [
 {col:0,row:0,shades:panel1Shades,contours:panel1Contours,labels:panel1Labels},
 {col:0,row:1,shades:panel2Shades,contours:panel2Contours,labels:panel2Labels},
 {col:0,row:2,shades:panel3Shades,contours:panel3Contours,labels:panel3Labels},
 {col:0,row:3,shades:panel4Shades,contours:panel4Contours,labels:panel4Labels},
 {col:1,row:0,shades:panel5Shades,contours:panel5Contours,labels:panel5Labels},
 {col:1,row:1,shades:panel6Shades,contours:panel6Contours,labels:panel6Labels},
 {col:1,row:2,shades:panel7Shades,contours:panel7Contours,labels:panel7Labels},
 {col:1,row:3,shades:panel8Shades,contours:panel8Contours,labels:panel8Labels}
];

// ---- drawing --------------------------------------------------------------
const NS = 'http://www.w3.org/2000/svg';
const PX_LON = 3.51, PX_LAT = 3.5;
function mk(parent, tag, attrs){
  const el = document.createElementNS(NS, tag);
  for(const k in attrs) el.setAttribute(k, attrs[k]);
  parent.appendChild(el);
  return el;
}
function xScale(col, lon){ return colZeros[col] + lon * PX_LON; }
function yScale(row, lat){ return rowTops[row] + (30 - lat) * PX_LAT; }
function colorFor(v){
  for(let i = 0; i < colorbarTicks.length; i++){ if(v < colorbarTicks[i]) return colorbarColors[i]; }
  return colorbarColors[colorbarColors.length - 1];
}
function toPoints(flat, col, row){
  const pts = [];
  for(let i = 0; i + 1 < flat.length; i += 2) pts.push([xScale(col, flat[i]), yScale(row, flat[i + 1])]);
  return pts;
}
function smoothPath(pts, closed){
  const n = pts.length;
  let d = 'M' + pts[0][0].toFixed(1) + ' ' + pts[0][1].toFixed(1);
  const segs = closed ? n : n - 1;
  for(let i = 0; i < segs; i++){
    const p0 = closed ? pts[(i - 1 + n) % n] : pts[Math.max(i - 1, 0)];
    const p1 = pts[i];
    const p2 = pts[(i + 1) % n];
    const p3 = closed ? pts[(i + 2) % n] : pts[Math.min(i + 2, n - 1)];
    d += 'C' + (p1[0] + (p2[0] - p0[0]) / 6).toFixed(1) + ' ' + (p1[1] + (p2[1] - p0[1]) / 6).toFixed(1) + ' ' +
         (p2[0] - (p3[0] - p1[0]) / 6).toFixed(1) + ' ' + (p2[1] - (p3[1] - p1[1]) / 6).toFixed(1) + ' ' +
         p2[0].toFixed(1) + ' ' + p2[1].toFixed(1);
  }
  return d + (closed ? 'Z' : '');
}
function straightPath(pts){
  return 'M' + pts.map(p => p[0].toFixed(1) + ' ' + p[1].toFixed(1)).join('L');
}

const root = document.getElementById('panels');
const LON_MIN = -90.4, LON_MAX = 90.6, LAT_MAX = 30, LAT_MIN = -10.2;

panels.forEach(function(p, idx){
  const col = p.col, row = p.row;
  const x0 = xScale(col, LON_MIN), x1 = xScale(col, LON_MAX);
  const y0 = yScale(row, LAT_MAX), y1 = yScale(row, LAT_MIN);
  const g = mk(root, 'g', {});
  
  

  const clip = mk(g, 'clipPath', {id: 'clip' + idx});
  mk(clip, 'rect', {x: x0, y: y0, width: x1 - x0, height: y1 - y0});

  const bg = mk(g, 'rect', {x: x0, y: y0, width: x1 - x0, height: y1 - y0, fill: colorbarColors[5]});
  
  

  const plot = mk(g, 'g', {'clip-path': 'url(#clip' + idx + ')'});

  p.shades.forEach(function(s){
    const shade = mk(plot, 'path', {d: smoothPath(toPoints(s[1], col, row), true), fill: colorFor(s[0])});
    
    
  });
  coastlines.forEach(function(c){
    const line = mk(plot, 'path', {d: straightPath(toPoints(c, col, row)), fill: 'none', stroke: '#666', 'stroke-width': 1.5, 'stroke-linejoin': 'round'});
    
    
  });
  borders.forEach(function(c){
    const line = mk(plot, 'path', {d: straightPath(toPoints(c, col, row)), fill: 'none', stroke: '#666', 'stroke-width': 1.5, 'stroke-linejoin': 'round'});
    
    
  });

  const eq = mk(plot, 'line', {x1: x0, x2: x1, y1: yScale(row, 0), y2: yScale(row, 0), stroke: '#444', 'stroke-width': 1.2, 'stroke-dasharray': '5 4'});
  
  
  const mer = mk(plot, 'line', {x1: xScale(col, 0), x2: xScale(col, 0), y1: yScale(row, 5), y2: y1, stroke: '#444', 'stroke-width': 1.2, 'stroke-dasharray': '5 4'});
  
  

  p.contours.forEach(function(c){
    const contour = mk(plot, 'path', {d: smoothPath(toPoints(c[1], col, row), c[2] !== 'open'), fill: 'none', stroke: contourColors[c[0]], 'stroke-width': 1.8});
    
    
  });
  p.labels.forEach(function(l){
    const dot = mk(plot, 'ellipse', {cx: xScale(col, l[0]), cy: yScale(row, l[1]), rx: 4.5, ry: 7, fill: '#ff0000'});
    
    
    const lab = mk(plot, 'text', {x: xScale(col, l[0]), y: yScale(row, l[1]) + 4, 'font-size': 11, 'text-anchor': 'middle', 'font-weight': 'bold', style: 'fill:#fff'});
    lab.textContent = l[2];
    
    
  });

  const frame = mk(g, 'rect', {x: x0, y: y0, width: x1 - x0, height: y1 - y0, fill: 'none', stroke: '#000', 'stroke-width': 3});
  
  

  const ticks = mk(g, 'g', {stroke: '#000'});
  
  
  for(let lon = -90; lon <= 90; lon += 10){
    const major = lonTicksMajor.indexOf(lon) >= 0;
    const len = major ? 6 : 3.5;
    const w = major ? 2.5 : 1.5;
    const tx = xScale(col, lon);
    mk(ticks, 'line', {x1: tx, x2: tx, y1: y0, y2: y0 - len, 'stroke-width': w});
    mk(ticks, 'line', {x1: tx, x2: tx, y1: y1, y2: y1 + len, 'stroke-width': w});
  }
  for(let lat = -10; lat <= 30; lat += 2){
    const major = latTicksMajor.indexOf(lat) >= 0;
    const len = major ? 6 : 3.5;
    const w = major ? 2.5 : 1.4;
    const ty = yScale(row, lat);
    mk(ticks, 'line', {x1: x0, x2: x0 - len, y1: ty, y2: ty, 'stroke-width': w});
    mk(ticks, 'line', {x1: x1, x2: x1 + len, y1: ty, y2: ty, 'stroke-width': w});
  }

  if(col === 0){
    latTicksMajor.forEach(function(lat, i){
      const t = mk(g, 'text', {x: 74, y: yScale(row, lat) + 12, 'font-size': 34, 'text-anchor': 'end'});
      t.textContent = latTickLabels[i];
      
      
    });
  }
  if(row === 3){
    lonTicksMajor.forEach(function(lon, i){
      const t = mk(g, 'text', {x: xScale(col, lon) - 1, y: 910, 'font-size': 35, 'text-anchor': 'middle'});
      t.textContent = lonTickLabels[i];
      
      
    });
  }
});

// colour bar
const cbar = document.getElementById('colorbar');
const CB_X = 229.5, CB_Y = 972, CB_H = 23, CB_W = 54.9;
colorbarColors.forEach(function(c, i){
  const cell = mk(cbar, 'rect', {x: CB_X + i * CB_W, y: CB_Y, width: CB_W, height: CB_H, fill: c, stroke: '#111', 'stroke-width': 1.3});
  
  
});
colorbarTicks.forEach(function(v, i){
  const t = mk(cbar, 'text', {x: CB_X + (i + 1) * CB_W - (v < 0 ? 1 : 0), y: 1023, 'font-size': 29, 'text-anchor': 'middle'});
  t.textContent = String(v);
  
  
});
</script>
</svg>
</body>
</html>
